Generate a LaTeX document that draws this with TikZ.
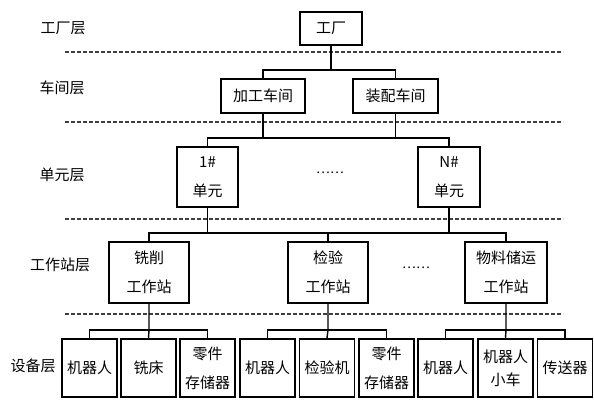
\documentclass[tikz,border=0pt]{standalone}
\usepackage{fontspec}
\setmainfont{Noto Sans CJK SC}
\begin{document}
\begin{tikzpicture}[x=1pt,y=-1pt,
  box/.style={draw, line width=1.8pt, inner sep=0pt, align=center, font=\fontsize{15}{29}\selectfont},
  topbox/.style={box, line width=2.6pt},
  eqbox/.style={box, minimum width=55pt, minimum height=58pt, font=\fontsize{15}{29}\selectfont},
  wsbox/.style={box, minimum width=80pt, minimum height=61pt},
  unitbox/.style={box, minimum width=61pt, minimum height=60pt},
  layer/.style={font=\fontsize{15}{16}\selectfont, inner sep=0pt},
  conn/.style={line width=1.4pt},
  sep/.style={line width=1.1pt, black!75, dash pattern=on 4pt off 2pt},
  dots/.style={font=\fontsize{13}{14}\selectfont, inner sep=0pt}]
\fill[white] (0,0) rectangle (594,413);
\useasboundingbox (0,0) rectangle (594,413);

% layer separators
\draw[sep] (65,52) -- (563,52);
\draw[sep] (65,122) -- (563,122);
\draw[sep] (65,219) -- (563,219);
\draw[sep] (65,314) -- (563,314);

% layer labels
\node[layer] (L1) at (63,28) {工厂层};
\node[layer] (L2) at (62,88) {车间层};
\node[layer] (L3) at (62,175) {单元层};
\node[layer] (L4) at (60,265) {工作站层};
\node[layer] (L5) at (33,366) {设备层};

% factory
\node[topbox, minimum width=62pt, minimum height=33pt] (factory) at (331,28.5) {工厂};
% workshops
\node[topbox, minimum width=84pt, minimum height=34pt] (shop1) at (263,96) {加工车间};
\node[topbox, minimum width=85pt, minimum height=34pt] (shop2) at (395.5,96) {装配车间};
% units
\node[unitbox] (u1) at (207.5,177) {1\#\\单元};
\node[unitbox, minimum width=62pt] (uN) at (449,177) {N\#\\单元};
\node[dots] (d1) at (330,173) {……};
% workstations
\node[wsbox] (ws1) at (149,272.5) {铣削\\工作站};
\node[wsbox] (ws2) at (328,272.5) {检验\\工作站};
\node[wsbox, minimum width=82pt] (ws3) at (506,272.5) {物料储运\\工作站};
\node[dots] (d2) at (416,268) {……};
% equipment
\node[eqbox] (e1) at (89.5,368) {机器人};
\node[eqbox] (e2) at (148.5,368) {铣床};
\node[eqbox] (e3) at (207.5,368) {零件\\存储器};
\node[eqbox] (e4) at (267.5,368) {机器人};
\node[eqbox] (e5) at (327,368) {检验机};
\node[eqbox] (e6) at (386.5,368) {零件\\存储器};
\node[eqbox] (e7) at (445.5,368) {机器人};
\node[eqbox, font=\fontsize{15}{23}\selectfont] (e8) at (505.5,368) {机器人\\小车};
\node[eqbox] (e9) at (565,368) {传送器};

% bus coordinates
\coordinate (b1) at (331,70);
\coordinate (b2) at (330,138);
\coordinate (b3) at (328,233);
\coordinate (y4) at (0,330);

% connectors
\draw[conn] (factory.south) -- (b1);
\draw[conn] (shop1.north) |- (b1) -| (shop2.north);

\draw[conn] (u1.north) |- (b2) -| (uN.north);
\draw[conn] (shop1.south) -- (shop1.south |- b2);
\draw[conn] (shop2.south) -- (shop2.south |- b2);

\draw[conn] (ws1.north) |- (b3) -| (ws3.north);
\draw[conn] (ws2.north) -- (ws2.north |- b3);
\draw[conn] (u1.south) -- (u1.south |- b3);
\draw[conn] (uN.south) -- (uN.south |- b3);

\draw[conn] (e1.north) |- (ws1.south |- y4) -| (e3.north);
\draw[conn] (ws1.south) -- (ws1.south |- y4) -- (e2.north);
\draw[conn] (e4.north) |- (ws2.south |- y4) -| (e6.north);
\draw[conn] (ws2.south) -- (ws2.south |- y4) -- (e5.north);
\draw[conn] (e7.north) |- (ws3.south |- y4) -| (e9.north);
\draw[conn] (ws3.south) -- (ws3.south |- y4) -- (e8.north);
\end{tikzpicture}
\end{document}
